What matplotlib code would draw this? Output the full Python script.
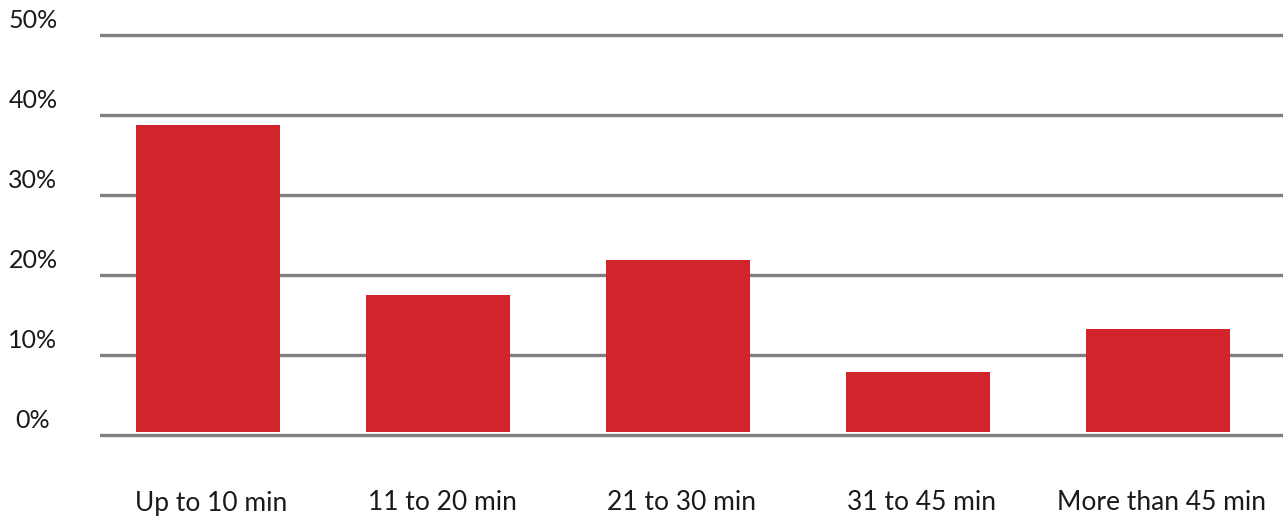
import matplotlib
matplotlib.use("Agg")
import matplotlib.pyplot as plt
from matplotlib import transforms

categories = ["Up to 10 min", "11 to 20 min", "21 to 30 min", "31 to 45 min", "More than 45 min"]
shares = [38.7, 17.5, 21.9, 7.9, 13.2]
tick_values = [0, 10, 20, 30, 40, 50]
tick_labels = ["0%", "10%", "20%", "30%", "40%", "50%"]

BAR_COLOR = "#D1242C"
GRID_COLOR = "#7F7F7F"
TEXT_COLOR = "#1A1A1A"
FONT = "Lato"
BASE_GAP = 0.4  # bars float slightly above the zero line

W, H, DPI = 1283, 520, 100
fig = plt.figure(figsize=(W / DPI, H / DPI), dpi=DPI)
ax = fig.add_axes([100 / W, 69 / H, 1183 / W, 432 / H])

bar_pos = [0.04, 1, 2, 3, 4]
ax.bar(bar_pos, [s - BASE_GAP for s in shares], width=0.6, bottom=BASE_GAP,
       color=BAR_COLOR, zorder=3)

for v in tick_values:
    ax.axhline(v, color=GRID_COLOR, lw=2.4, zorder=1)

ax.set_xlim(-0.4083, -0.4083 + 1183 / 240)
ax.set_ylim(-2, 52)
ax.axis("off")

# y labels: centred at a fixed figure x, sitting just above each gridline
ytrans = transforms.blended_transform_factory(fig.transFigure, ax.transData) + \
    transforms.ScaledTranslation(0, 14 / DPI, fig.dpi_scale_trans)
for v, lab in zip(tick_values, tick_labels):
    ax.text(33 / W, v, lab, transform=ytrans, ha="center", va="center",
            fontsize=18, family=FONT, color=TEXT_COLOR)

# category labels below the baseline, nudged a little to the right
xtrans = transforms.blended_transform_factory(ax.transData, ax.transData) + \
    transforms.ScaledTranslation(4 / DPI, -68 / DPI, fig.dpi_scale_trans)
for xi, lab in zip(bar_pos, categories):
    ax.text(xi, 0, lab, transform=xtrans, ha="center", va="center",
            fontsize=19, family=FONT, color=TEXT_COLOR)

fig.savefig("out.png", dpi=DPI, facecolor="white")
